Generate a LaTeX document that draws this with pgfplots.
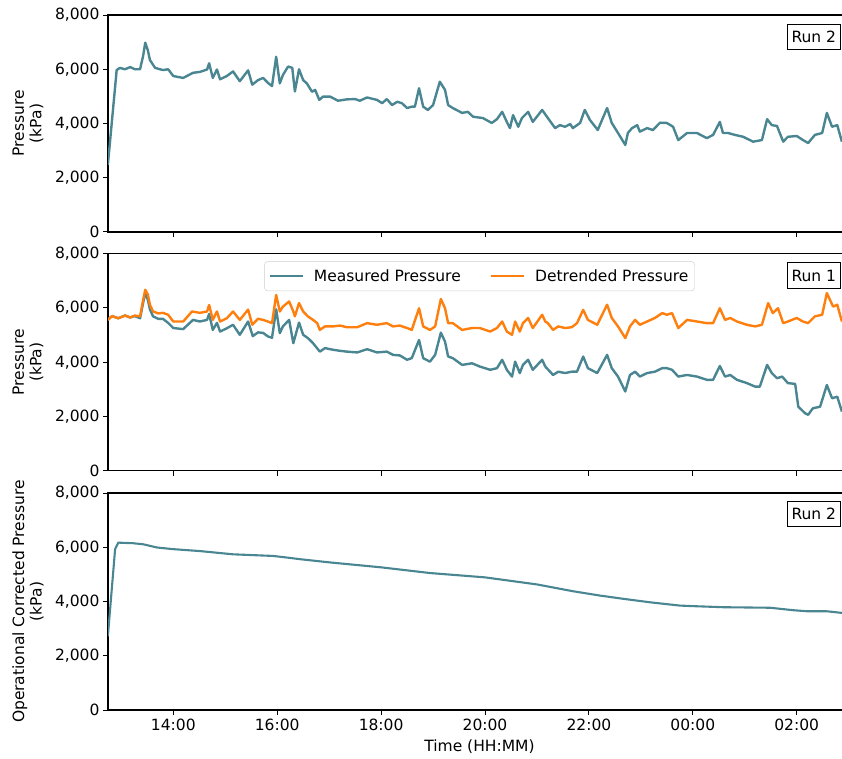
\documentclass[border=0pt]{standalone}
\usepackage{fontspec}
\setmainfont{DejaVu Sans}
\usepackage{pgfplots}
\pgfplotsset{compat=1.18}
\definecolor{tealc}{HTML}{4A8692}
\definecolor{orngc}{HTML}{FF7F0E}
\newcommand{\fs}{\fontsize{15.5}{17.5}\selectfont}
\tikzset{runbox/.style={draw=black, line width=1pt, fill=white, anchor=north east, inner xsep=4.5pt, inner ysep=7pt, font=\fs}}
\pgfplotsset{
  myax/.style={
    scale only axis, width=743pt, height=217pt,
    xmin=12.743, xmax=27.045, ymin=0, ymax=8000,
    xtick={14,16,...,26}, ytick={0,2000,4000,6000,8000},
    scaled y ticks=false,
    /pgf/number format/assume math mode=true,
    yticklabel style={/pgf/number format/.cd, fixed, 1000 sep={,}},
    tick align=outside, xtick pos=left, ytick pos=left,
    major tick length=5pt,
    every tick/.style={black, line width=1pt},
    axis line style={black, line width=1.1pt},
    tick label style={font=\fs},
    label style={font=\fs},
    ylabel style={at={(axis description cs:-0.1077,0.5)}, anchor=center, align=center},
  },
}
\begin{document}
\begin{tikzpicture}
% Panel 1
\begin{axis}[myax, at={(108pt,-232pt)}, anchor=south west, xticklabels={}, ylabel={Pressure\\(kPa)}]
\addplot[tealc, line width=2.4pt, line join=round] coordinates {
(12.74,2470) (12.91,5970) (12.97,6050) (13.07,6000) (13.17,6080) (13.26,6000) (13.36,6000) (13.42,6500) (13.46,6980) (13.51,6700) (13.55,6340) (13.65,6050) (13.80,5970) (13.90,6000) (14.00,5750) (14.19,5680) (14.38,5870) (14.51,5900) (14.65,5990) (14.69,6220) (14.76,5680) (14.84,5990) (14.90,5630) (15.03,5750) (15.15,5920) (15.28,5560) (15.44,5960) (15.52,5430) (15.63,5600) (15.73,5680) (15.82,5500) (15.90,5380) (15.98,6460) (16.05,5480) (16.11,5790) (16.21,6100) (16.29,6050) (16.34,5180) (16.42,6000) (16.50,5600) (16.57,5480) (16.67,5170) (16.73,5240) (16.81,4870) (16.88,4990) (17.02,4990) (17.17,4840) (17.34,4890) (17.50,4900) (17.59,4840) (17.73,4960) (17.92,4870) (18.02,4750) (18.11,4900) (18.21,4680) (18.31,4800) (18.40,4750) (18.50,4570) (18.59,4620) (18.65,4620) (18.73,5300) (18.81,4620) (18.90,4500) (19.00,4680) (19.13,5540) (19.23,5240) (19.29,4680) (19.38,4570) (19.56,4390) (19.67,4430) (19.77,4250) (19.96,4200) (20.13,4020) (20.23,4160) (20.33,4430) (20.42,4060) (20.48,3830) (20.54,4310) (20.64,3880) (20.71,4200) (20.83,4430) (20.92,4060) (21.10,4500) (21.21,4200) (21.35,3830) (21.44,3940) (21.54,3880) (21.64,3980) (21.69,3830) (21.83,4020) (21.92,4500) (22.02,4130) (22.17,3760) (22.35,4570) (22.44,4020) (22.56,3650) (22.70,3210) (22.75,3650) (22.83,3830) (22.93,3940) (22.98,3700) (23.12,3830) (23.23,3760) (23.37,4030) (23.50,4020) (23.62,3880) (23.72,3390) (23.89,3650) (24.08,3650) (24.27,3460) (24.39,3580) (24.52,4060) (24.58,3650) (24.68,3650) (24.81,3580) (24.97,3510) (25.16,3330) (25.33,3390) (25.43,4160) (25.52,3940) (25.62,3910) (25.74,3330) (25.83,3510) (26.00,3540) (26.12,3390) (26.22,3280) (26.35,3580) (26.49,3650) (26.58,4390) (26.68,3880) (26.78,3940) (26.87,3330)
};
\node[runbox] at ([xshift=-10pt,yshift=-8.7pt]rel axis cs:1,1) {Run 2};
\end{axis}
% Panel 2
\begin{axis}[myax, at={(108pt,-470.7pt)}, anchor=south west, xticklabels={}, ylabel={Pressure\\(kPa)},
  legend columns=2,
  legend style={at={(0.5,1)}, anchor=north, yshift=-7.7pt, draw=black!20, rounded corners=3pt, fill=white, font=\fs,
    inner ysep=6pt, inner xsep=4pt,
    /tikz/every odd column/.append style={column sep=8pt},
    /tikz/every even column/.append style={column sep=27pt}},
  legend image code/.code={\draw[#1, line width=2.4pt] (0pt,0pt) -- (33pt,0pt);}]
\addplot[tealc, line width=2.4pt, line join=round] coordinates {
(12.74,5560) (12.82,5700) (12.94,5620) (13.07,5720) (13.17,5650) (13.26,5700) (13.36,5620) (13.42,6200) (13.46,6550) (13.51,6300) (13.55,5950) (13.61,5690) (13.71,5600) (13.80,5600) (13.90,5450) (14.00,5260) (14.19,5220) (14.38,5560) (14.51,5500) (14.65,5560) (14.69,5780) (14.76,5190) (14.84,5450) (14.90,5130) (15.03,5250) (15.15,5380) (15.28,5010) (15.44,5500) (15.53,4960) (15.63,5100) (15.73,5080) (15.82,4950) (15.90,4900) (15.98,5950) (16.05,5070) (16.11,5320) (16.23,5560) (16.31,4700) (16.42,5460) (16.50,5010) (16.59,4890) (16.69,4700) (16.82,4390) (16.92,4520) (17.07,4460) (17.21,4420) (17.34,4390) (17.54,4360) (17.73,4480) (17.92,4360) (18.11,4390) (18.23,4270) (18.36,4250) (18.50,4090) (18.59,4150) (18.73,4820) (18.81,4150) (18.94,4020) (19.04,4270) (19.15,5090) (19.23,4760) (19.29,4210) (19.38,4150) (19.56,3900) (19.75,3960) (19.90,3840) (20.10,3720) (20.23,3780) (20.33,4090) (20.42,3720) (20.52,3470) (20.58,4020) (20.67,3600) (20.73,3900) (20.83,4090) (20.92,3720) (21.10,4090) (21.16,3840) (21.31,3530) (21.41,3650) (21.54,3600) (21.67,3650) (21.77,3650) (21.89,4210) (21.98,3780) (22.16,3600) (22.35,4270) (22.44,3780) (22.56,3470) (22.70,2920) (22.79,3530) (22.89,3650) (22.98,3470) (23.12,3600) (23.27,3650) (23.41,3780) (23.50,3780) (23.60,3720) (23.72,3470) (23.89,3530) (24.08,3470) (24.27,3350) (24.39,3350) (24.52,3860) (24.62,3470) (24.72,3530) (24.85,3350) (25.04,3230) (25.20,3100) (25.29,3100) (25.43,3900) (25.52,3600) (25.62,3410) (25.72,3470) (25.83,3230) (25.97,3200) (26.03,2360) (26.16,2120) (26.22,2060) (26.31,2300) (26.45,2360) (26.58,3160) (26.68,2670) (26.78,2730) (26.87,2180)
};
\addlegendentry{Measured Pressure}
\addplot[orngc, line width=2.4pt, line join=round] coordinates {
(12.74,5560) (12.82,5700) (12.94,5620) (13.07,5720) (13.17,5650) (13.26,5720) (13.36,5690) (13.42,6300) (13.46,6670) (13.51,6500) (13.55,6120) (13.61,5870) (13.71,5800) (13.80,5820) (13.90,5750) (14.00,5500) (14.19,5500) (14.36,5870) (14.51,5820) (14.65,5870) (14.69,6110) (14.76,5560) (14.84,5870) (14.90,5500) (15.03,5620) (15.15,5870) (15.28,5560) (15.44,5940) (15.52,5380) (15.63,5600) (15.73,5560) (15.82,5500) (15.90,5440) (15.98,6480) (16.05,5870) (16.11,6050) (16.23,6240) (16.31,5870) (16.34,5690) (16.42,6180) (16.50,5870) (16.59,5690) (16.69,5560) (16.77,5440) (16.82,5190) (16.92,5320) (17.07,5320) (17.21,5350) (17.34,5290) (17.54,5290) (17.73,5440) (17.92,5380) (18.11,5440) (18.23,5320) (18.36,5350) (18.50,5260) (18.59,5190) (18.73,5990) (18.81,5320) (18.94,5190) (19.04,5320) (19.15,6330) (19.23,5990) (19.29,5440) (19.38,5440) (19.56,5190) (19.75,5260) (19.90,5260) (20.10,5130) (20.23,5260) (20.33,5500) (20.42,5130) (20.52,5010) (20.58,5500) (20.67,5130) (20.73,5440) (20.83,5630) (20.92,5260) (21.10,5750) (21.16,5500) (21.21,5440) (21.31,5190) (21.41,5320) (21.54,5260) (21.67,5290) (21.77,5440) (21.89,5930) (21.98,5560) (22.16,5380) (22.35,6120) (22.44,5630) (22.56,5320) (22.70,4890) (22.79,5320) (22.89,5560) (22.98,5380) (23.12,5500) (23.27,5630) (23.41,5810) (23.50,5750) (23.60,5810) (23.72,5260) (23.89,5560) (24.08,5500) (24.27,5440) (24.39,5440) (24.52,5990) (24.62,5560) (24.72,5630) (24.85,5500) (25.04,5380) (25.20,5320) (25.33,5380) (25.45,6180) (25.54,5810) (25.64,5990) (25.74,5440) (25.83,5500) (26.00,5630) (26.12,5500) (26.22,5440) (26.35,5690) (26.49,5750) (26.58,6550) (26.70,6050) (26.78,6120) (26.87,5500)
};
\addlegendentry{Detrended Pressure}
\node[runbox] at ([xshift=-10pt,yshift=-8.7pt]rel axis cs:1,1) {Run 1};
\end{axis}
% Panel 3
\begin{axis}[myax, at={(108pt,-710pt)}, anchor=south west,
  xticklabels={14:00,16:00,18:00,20:00,22:00,00:00,02:00},
  xlabel={Time (HH:MM)}, xlabel style={yshift=-3pt},
  ylabel={Operational Corrected Pressure\\(kPa)}]
\addplot[tealc, line width=2.1pt, line join=round] coordinates {
(12.74,2720) (12.88,5930) (12.94,6170) (13.22,6150) (13.42,6110) (13.69,5990) (14.00,5930) (14.51,5860) (15.15,5740) (15.92,5680) (16.19,5620) (16.44,5560) (17.02,5440) (18.00,5260) (18.94,5050) (20.00,4890) (21.00,4630) (21.69,4380) (22.21,4220) (22.66,4100) (23.18,3970) (23.75,3850) (24.00,3830) (24.58,3790) (25.49,3770) (25.93,3680) (26.20,3640) (26.58,3640) (26.87,3580)
};
\node[runbox] at ([xshift=-10pt,yshift=-7.7pt]rel axis cs:1,1) {Run 2};
\end{axis}
\pgfresetboundingbox
\path (0pt,0pt) rectangle (842pt,-759pt);
\end{tikzpicture}
\end{document}
